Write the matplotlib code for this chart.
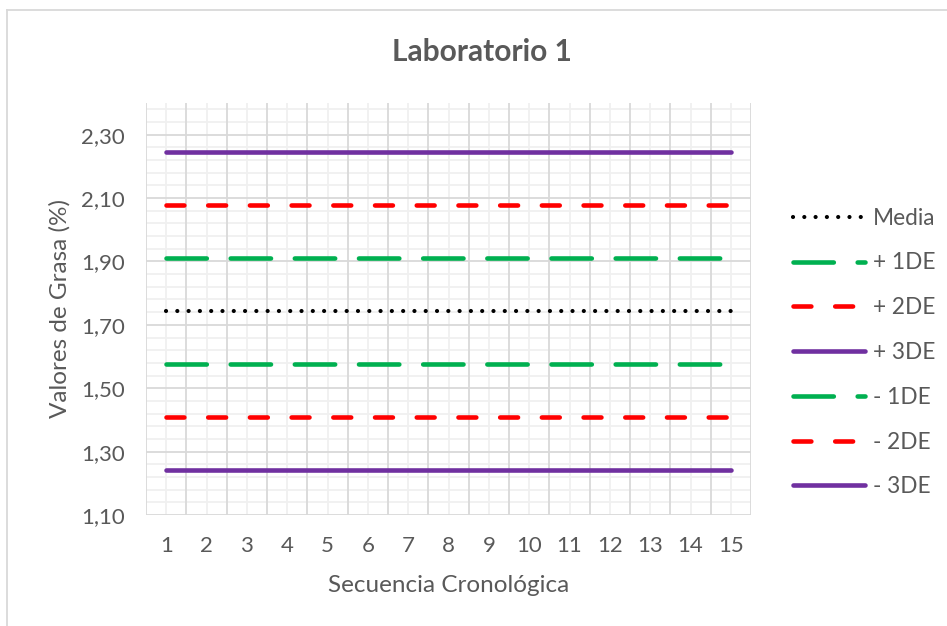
import matplotlib
matplotlib.use("Agg")
import matplotlib.pyplot as plt
from matplotlib.ticker import FuncFormatter, FixedLocator
from matplotlib.lines import Line2D

plt.rcParams['font.family'] = ['Lato', 'DejaVu Sans']

secuencia = list(range(1, 16))
media = [1.744] * 15
mas_1de = [1.911] * 15
mas_2de = [2.078] * 15
mas_3de = [2.245] * 15
menos_1de = [1.577] * 15
menos_2de = [1.410] * 15
menos_3de = [1.243] * 15
labels = ["Media", "+ 1DE", "+ 2DE", "+ 3DE", "- 1DE", "- 2DE", "- 3DE"]
y_ticks = [1.10, 1.30, 1.50, 1.70, 1.90, 2.10, 2.30]

TXT = "#595959"
fig = plt.figure(figsize=(9.47, 6.26), dpi=100)
ax = fig.add_axes([146/947, 1-515/626, (751-146)/947, (515-103)/626])

lw = 3.3
series = [
    (media, "black", (0.01, 2.7), 3.0),
    (mas_1de, "#00B050", (8.8, 5.2), lw),
    (mas_2de, "#FF0000", (3.9, 5.2), lw),
    (mas_3de, "#7030A0", None, lw),
    (menos_1de, "#00B050", (8.8, 5.2), lw),
    (menos_2de, "#FF0000", (3.9, 5.2), lw),
    (menos_3de, "#7030A0", None, lw),
]
handles = []
for (vals, col, dash, w), lab in zip(series, labels):
    kw = dict(color=col, lw=w, solid_capstyle='round', dash_capstyle='round', label=lab, zorder=3)
    if dash is not None:
        kw['dashes'] = dash
    ln, = ax.plot(secuencia, vals, **kw)
    handles.append(ln)

ax.set_xlim(0.5, 15.5)
ax.set_ylim(1.10, 2.40)
ax.xaxis.set_major_locator(FixedLocator(secuencia))
ax.yaxis.set_major_locator(FixedLocator(y_ticks))
ax.yaxis.set_major_formatter(FuncFormatter(lambda v, p: f"{v:.2f}".replace('.', ',')))

# grid lines
for i in range(16):
    ax.axvline(0.5 + i, color="#d9d9d9", lw=1.3, zorder=1)
for xv in secuencia:
    ax.axvline(xv, color="#f0f0f0", lw=1.3, zorder=0.5)
for k in range(33):
    yv = 1.10 + 0.04 * k
    if k % 5 == 0:
        ax.axhline(yv, color="#d9d9d9", lw=1.3, zorder=1)
    else:
        ax.axhline(yv, color="#f0f0f0", lw=1.3, zorder=0.5)

for s in ax.spines.values():
    s.set_visible(False)
ax.tick_params(axis='both', length=0, labelsize=16, colors=TXT)
ax.tick_params(axis='x', pad=15)
ax.tick_params(axis='y', pad=15)

ax.set_xlabel("Secuencia Cronológica", fontsize=17.5, color=TXT, labelpad=14)
ax.set_ylabel("Valores de Grasa (%)", fontsize=17.5, color=TXT, labelpad=8)
fig.text(482/947, 1-52/626, "Laboratorio 1", ha='center', va='center',
         fontsize=21.5, fontweight='bold', color=TXT)

leg = fig.legend(handles=handles, loc='center left', bbox_to_anchor=(793/947, 1-352.5/626),
                 frameon=False, fontsize=16.3, handlelength=3.2, handletextpad=0.35,
                 labelspacing=1.05, borderpad=0, borderaxespad=0)
for t in leg.get_texts():
    t.set_color(TXT)

# chart border (top and left visible)
fig.add_artist(Line2D([7/947, 7/947], [0, 1-10/626], transform=fig.transFigure, color="#d9d9d9", lw=1.3))
fig.add_artist(Line2D([7/947, 1], [1-10/626, 1-10/626], transform=fig.transFigure, color="#d9d9d9", lw=1.3))

fig.savefig("out.png", dpi=100)
